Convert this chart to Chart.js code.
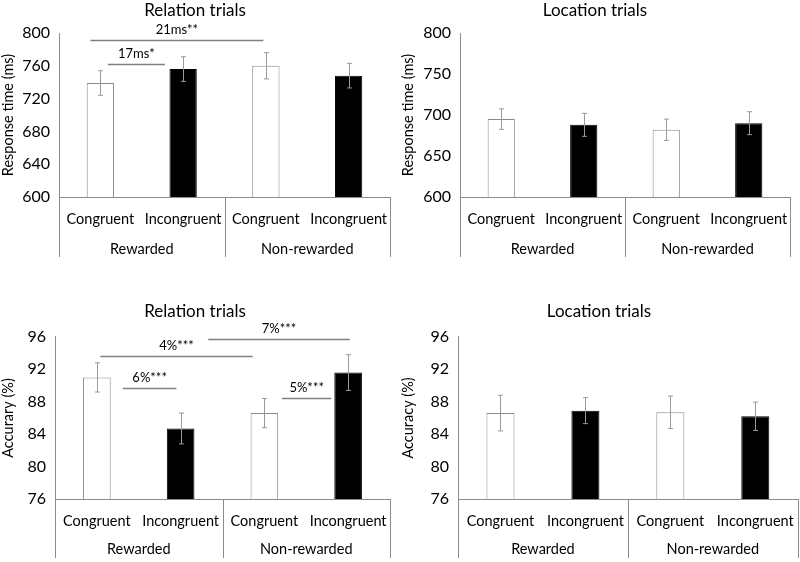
<!DOCTYPE html>
<html>
<head>
<meta charset="utf-8">
<script src="https://cdn.jsdelivr.net/npm/chart.js@4/dist/chart.umd.min.js"></script>
<style>
  html, body { margin: 0; padding: 0; background: #fff; }
  #wrap { position: relative; width: 800px; height: 562px; }
  .panel { position: absolute; width: 400px; height: 281px; }
</style>
</head>
<body>
<div id="wrap">
  <div class="panel" style="left:0;top:0"><canvas id="c1"></canvas></div>
  <div class="panel" style="left:400px;top:0"><canvas id="c2"></canvas></div>
  <div class="panel" style="left:0;top:281px"><canvas id="c3"></canvas></div>
  <div class="panel" style="left:400px;top:281px"><canvas id="c4"></canvas></div>
</div>
<script>
'use strict';

// ---------------------------------------------------------------------------
// Data
// ---------------------------------------------------------------------------

const conditions = ['Congruent', 'Incongruent', 'Congruent', 'Incongruent'];
const groups     = ['Rewarded', 'Non-rewarded'];

// response time (ms)
const relRt     = [739, 756, 760, 748];
const relRtErr  = [15, 15, 16, 15];
const locRt     = [695, 688, 682, 690];
const locRtErr  = [12.5, 14, 13, 14];

// accuracy (%)
const relAcc    = [91.0, 84.7, 86.6, 91.6];
const relAccErr = [1.8, 1.9, 1.8, 2.2];
const locAcc    = [86.6, 86.9, 86.7, 86.2];
const locAccErr = [2.2, 1.6, 2.0, 1.75];

// significance brackets: from/to in category index units, y in data units
const relRtSig = [
  { from: -0.12, to: 1.97, y: 791.5, label: '21ms**' },
  { from: 0.09,  to: 0.78, y: 762,   label: '17ms*' },
];
const relAccSig = [
  { from: 0.04, to: 1.86, y: 93.7,  label: '4%***' },
  { from: 1.33, to: 3.02, y: 95.75, label: '7%***' },
  { from: 0.31, to: 0.95, y: 89.65, label: '6%***' },
  { from: 2.21, to: 2.80, y: 88.4,  label: '5%***' },
];

const barFill   = ['#ffffff', '#000000', '#ffffff', '#000000'];
const barBorder = ['#8a8a8a', '#000000', '#8a8a8a', '#000000'];

const FONT = 'Lato, "Open Sans", sans-serif';
const AXIS_GREY = '#8c8c8c';

// ---------------------------------------------------------------------------
// Plugins
// ---------------------------------------------------------------------------

// error bars + group dividers + significance brackets
const extrasPlugin = {
  id: 'extras',
  afterDatasetsDraw(chart, args, opts) {
    const ctx  = chart.ctx;
    const x    = chart.scales.x;
    const y    = chart.scales.y;
    const x2   = chart.scales.x2;
    const data = chart.data.datasets[0].data;
    const half = (x.getPixelForValue(1) - x.getPixelForValue(0)) / 2;

    ctx.save();

    // error bars
    ctx.strokeStyle = '#9a9a9a';
    ctx.lineWidth = 1;
    data.forEach((v, i) => {
      const px  = Math.round(x.getPixelForValue(i)) + 0.5;
      const top = y.getPixelForValue(v + opts.err[i]);
      const bot = y.getPixelForValue(v - opts.err[i]);
      ctx.beginPath();
      ctx.moveTo(px, top); ctx.lineTo(px, bot);
      ctx.moveTo(px - 2.5, top); ctx.lineTo(px + 2.5, top);
      ctx.moveTo(px - 2.5, bot); ctx.lineTo(px + 2.5, bot);
      ctx.stroke();
    });

    // group dividers below the axis
    ctx.strokeStyle = AXIS_GREY;
    [0, 2, 4].forEach(k => {
      const px = Math.round(x.getPixelForValue(0) - half + k * half * 2) + 0.5;
      ctx.beginPath();
      ctx.moveTo(px, chart.chartArea.bottom);
      ctx.lineTo(px, x2.bottom - opts.dividerCut);
      ctx.stroke();
    });

    // significance brackets
    ctx.font = '13px ' + FONT;
    ctx.textAlign = 'center';
    ctx.textBaseline = 'bottom';
    (opts.sig || []).forEach(s => {
      const xa = x.getPixelForValue(s.from);
      const xb = x.getPixelForValue(s.to);
      const py = Math.round(y.getPixelForValue(s.y)) + 0.5;
      ctx.strokeStyle = '#808080';
      ctx.lineWidth = 1.5;
      ctx.beginPath();
      ctx.moveTo(xa, py); ctx.lineTo(xb, py);
      ctx.stroke();
      ctx.fillStyle = '#000';
      ctx.fillText(s.label, (xa + xb) / 2, py - 4);
    });

    ctx.restore();
  },
};

// ---------------------------------------------------------------------------
// Chart builder
// ---------------------------------------------------------------------------

function buildPanel(canvas, cfg) {
  return new Chart(canvas, {
    type: 'bar',
    data: {
      labels: conditions,
      datasets: [{
        data: cfg.values,
        backgroundColor: barFill,
        borderColor: barBorder,
        borderWidth: 1,
        barPercentage: 0.33,
        categoryPercentage: 1,
      }],
    },
    plugins: [extrasPlugin],
    options: {
      responsive: false,
      animation: false,
      layout: { padding: cfg.padding },
      plugins: {
        legend: { display: false },
        tooltip: { enabled: false },
        title: {
          display: true,
          text: cfg.title,
          color: '#000',
          font: { family: FONT, size: 17, weight: 'normal' },
          padding: cfg.titlePad,
        },
        extras: { err: cfg.errors, sig: cfg.sig, dividerCut: cfg.dividerCut },
      },
      scales: {
        x: {
          type: 'category',
          labels: conditions,
          grid: { display: false },
          border: { display: true, color: AXIS_GREY, width: 1 },
          ticks: { color: '#000', font: { family: FONT, size: 14.5 }, padding: 6, maxRotation: 0, autoSkip: false },
          afterFit: s => { s.height = 40; },
        },
        x2: {
          type: 'category',
          labels: groups,
          position: 'bottom',
          offset: true,
          grid: { display: false },
          border: { display: false },
          ticks: { color: '#000', font: { family: FONT, size: 14.5 }, padding: cfg.x2Pad, maxRotation: 0 },
          afterFit: s => { s.height = cfg.x2Height; },
        },
        y: {
          min: cfg.min,
          max: cfg.max,
          grid: { display: false, drawTicks: false },
          border: { display: true, color: AXIS_GREY, width: 1 },
          ticks: { stepSize: cfg.step, color: '#000', font: { family: FONT, size: 16 }, padding: 9 },
          title: {
            display: true,
            text: cfg.yTitle,
            color: '#000',
            font: { family: FONT, size: 14.5 },
            padding: { top: 0, bottom: 0 },
          },
          afterFit: s => { s.width = cfg.yWidth; },
        },
      },
    },
  });
}

function setup(id) {
  const c = document.getElementById(id);
  c.width = 400; c.height = 281;
  c.style.width = '400px'; c.style.height = '281px';
  return c;
}

buildPanel(setup('c1'), {
  title: 'Relation trials', yTitle: 'Response time (ms)',
  values: relRt, errors: relRtErr, sig: relRtSig,
  min: 600, max: 800, step: 40,
  yWidth: 59, x2Height: 22, x2Pad: -4, dividerCut: 2,
  padding: { left: 0, right: 10, top: 0, bottom: 22 },
  titlePad: { top: 0, bottom: 12.6 },
});

buildPanel(setup('c2'), {
  title: 'Location trials', yTitle: 'Response time (ms)',
  values: locRt, errors: locRtErr, sig: [],
  min: 600, max: 800, step: 50,
  yWidth: 60, x2Height: 22, x2Pad: -4, dividerCut: 2,
  padding: { left: 0, right: 10, top: 0, bottom: 22 },
  titlePad: { top: 0, bottom: 12.6 },
});

buildPanel(setup('c3'), {
  title: 'Relation trials', yTitle: 'Accurary (%)',
  values: relAcc, errors: relAccErr, sig: relAccSig,
  min: 76, max: 96, step: 4,
  yWidth: 55, x2Height: 23, x2Pad: -6, dividerCut: 4,
  padding: { left: 0, right: 10, top: 0, bottom: 0 },
  titlePad: { top: 20.5, bottom: 15 },
});

buildPanel(setup('c4'), {
  title: 'Location trials', yTitle: 'Accuracy (%)',
  values: locAcc, errors: locAccErr, sig: [],
  min: 76, max: 96, step: 4,
  yWidth: 58, x2Height: 23, x2Pad: -6, dividerCut: 4,
  padding: { left: 0, right: 2, top: 0, bottom: 0 },
  titlePad: { top: 20.5, bottom: 15 },
});
</script>
</body>
</html>
